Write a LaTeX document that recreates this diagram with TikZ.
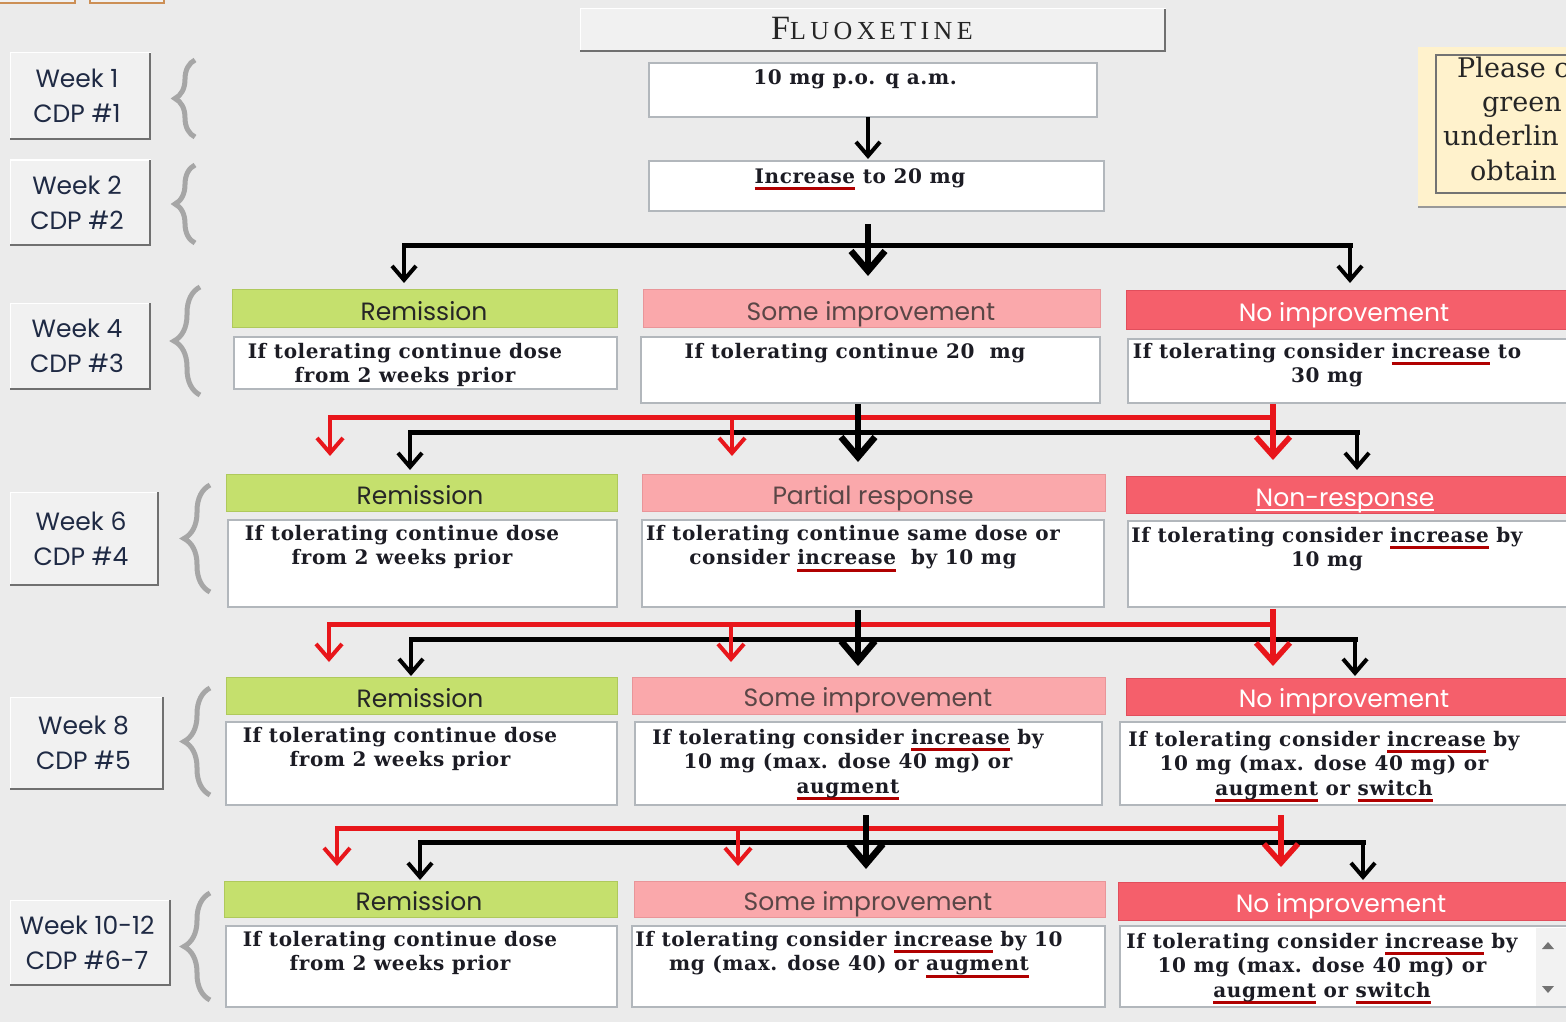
\documentclass[tikz,border=0pt]{standalone}
\usepackage{fontspec}
\setmainfont[LetterSpace=3]{DejaVu Serif}
\newfontfamily\hdfont{Poppins}
\newfontfamily\ttlfont[LetterSpace=17]{Liberation Serif}
\newfontfamily\ntfont{DejaVu Serif}
\usetikzlibrary{arrows.meta,decorations.pathreplacing}

\definecolor{bgc}{HTML}{EBEBEB}
\definecolor{btnfill}{HTML}{F1F1F1}
\definecolor{btnedge}{HTML}{707070}
\definecolor{grnh}{HTML}{C5E06D}
\definecolor{grnb}{HTML}{AFC95C}
\definecolor{pnkh}{HTML}{FAA8AB}
\definecolor{pnkb}{HTML}{E99599}
\definecolor{redh}{HTML}{F55F6B}
\definecolor{redb}{HTML}{E14E5C}
\definecolor{boxln}{HTML}{B2B7BC}
\definecolor{arrred}{HTML}{E8161B}
\definecolor{ulred}{HTML}{B00000}
\definecolor{notefill}{HTML}{FFF2CC}
\definecolor{txt}{HTML}{1C1C24}
\definecolor{wkt}{HTML}{1F2A44}
\definecolor{pnkt}{HTML}{5A4646}
\definecolor{brc}{HTML}{A6A6A6}
\definecolor{stubln}{HTML}{CC8F55}

% underlined words
\newsavebox\ulbox
\newcommand\ured[1]{\sbox\ulbox{#1}\rlap{\textcolor{ulred}{\rule[-7pt]{\wd\ulbox}{3pt}}}\usebox\ulbox}
\newcommand\uwht[1]{\sbox\ulbox{#1}\rlap{\textcolor{white}{\rule[-4.5pt]{\wd\ulbox}{1.6pt}}}\usebox\ulbox}

% a rectangular node given by its corners: style, name, x1, y1, x2, y2
\newcommand\cell[6]{%
  \pgfmathsetmacro\cw{#5-#3}\pgfmathsetmacro\ch{#6-#4}%
  \node[#1,anchor=north west,minimum width=\cw pt,minimum height=\ch pt,
        inner sep=0pt,outer sep=0pt] (#2) at (#3,#4) {};}

% raised week button: name, x1, y1, x2, y2, label
\newcommand\weekbtn[6]{%
  \cell{btn}{#1}{#2}{#3}{#4}{#5}
  \draw[btnedge,line width=2.5pt] (#1.north east) -- (#1.south east) -- (#1.south west);
  \node[wtxt] (#1t) at ([xshift=-3pt]#1.center) {#6};}

\begin{document}
\begin{tikzpicture}[x=1pt,y=-1pt,
  btn/.style={fill=btnfill,draw=white,line width=1pt},
  stub/.style={fill=btnfill,draw=stubln,line width=1.5pt},
  hdg/.style={fill=grnh,draw=grnb,line width=1pt},
  hdp/.style={fill=pnkh,draw=pnkb,line width=1pt},
  hdr/.style={fill=redh,draw=redb,line width=1pt},
  bodybox/.style={fill=white,draw=boxln,line width=1.2pt},
  notebox/.style={fill=notefill},
  noteframe/.style={draw=black!55,line width=2pt},
  htxt/.style={inner sep=0pt,anchor=base,font=\hdfont\fontsize{25}{25}\selectfont},
  btxt/.style={inner sep=0pt,anchor=north,align=center,text=txt,
               font=\bfseries\fontsize{20}{24.5}\selectfont},
  wtxt/.style={inner sep=0pt,align=center,text=wkt,font=\hdfont\fontsize{25}{35}\selectfont},
  ntxt/.style={inner sep=0pt,anchor=base west,text=black!85,font=\ntfont\fontsize{27}{27}\selectfont},
  hl/.style={line width=5pt,line cap=rect},
  bkarr/.style={black,line width=4pt,-{Straight Barb[length=14pt,width=24pt]}},
  bktr/.style={black,line width=6.5pt,-{Straight Barb[length=20pt,width=34pt]}},
  rdarr/.style={arrred,line width=4pt,-{Straight Barb[length=15pt,width=26pt]}},
  rdtr/.style={arrred,line width=5.5pt,-{Straight Barb[length=19pt,width=34pt]}},
  curly/.style={draw=brc,line width=5pt,decorate,decoration={brace,amplitude=#1}}]

\useasboundingbox (0,0) rectangle (1566,1022);
\fill[bgc] (0,0) rectangle (1566,1022);

% tabs peeking in at the top left
\cell{stub}{st1}{-3}{-12}{75}{3}
\cell{stub}{st2}{90}{-12}{164}{3}

% title bar
\cell{btn}{ttl}{580}{9}{1165}{51}
\draw[btnedge,line width=2.5pt] (ttl.north east) -- (ttl.south east) -- (ttl.south west);
\node[inner sep=0pt,anchor=base,text=black!85] (ttlt) at (872,40)
  {\ttlfont\fontsize{34}{34}\selectfont F\fontsize{26}{26}\selectfont LUOXETINE};

% starting doses
\cell{bodybox}{b1}{649}{63}{1097}{117}
\node[btxt] (b1t) at (855,69) {10 mg p.o. q a.m.};
\cell{bodybox}{b2}{649}{161}{1104}{211}
\node[btxt] (b2t) at (860,168) {\ured{Increase} to 20 mg};

% note in the top right corner
\cell{notebox}{nt}{1418}{47}{1580}{207}
\draw[black!40,line width=2.5pt] (nt.south west) -- (nt.south east);
\cell{noteframe}{nf}{1436}{55}{1580}{193}
\node[ntxt] (n1) at (1457,78) {Please c};
\node[ntxt] (n2) at (1482,112) {green};
\node[ntxt] (n3) at (1443,146) {underlin};
\node[ntxt] (n4) at (1470,180) {obtain};

% week buttons and braces
\weekbtn{w1}{10}{53}{150}{139}{Week 1\\CDP \#1}
\weekbtn{w2}{10}{160}{150}{245}{Week 2\\CDP \#2}
\weekbtn{w4}{10}{303}{150}{389}{Week 4\\CDP \#3}
\weekbtn{w6}{10}{492}{158}{585}{Week 6\\CDP \#4}
\weekbtn{w8}{10}{697}{163}{789}{Week 8\\CDP \#5}
\weekbtn{w10}{10}{900}{170}{985}{Week 10-12\\CDP \#6-7}
\draw[curly=20pt] (195,137) -- (195,60);
\draw[curly=20pt] (195,243) -- (195,165);
\draw[curly=26pt] (200,395) -- (200,287);
\draw[curly=26pt] (210,592) -- (210,485);
\draw[curly=26pt] (210,795) -- (210,688);
\draw[curly=26pt] (210,1000) -- (210,893);

% ---- week 4
\cell{hdg}{h4a}{232}{289}{617}{327}
\cell{hdp}{h4b}{643}{289}{1100}{327}
\cell{hdr}{h4c}{1126}{290}{1580}{329}
\node[htxt,text=black!85] (h4at) at (424,320) {Remission};
\node[htxt,text=pnkt] (h4bt) at (871,320) {Some improvement};
\node[htxt,text=white] (h4ct) at (1344,321) {No improvement};
\cell{bodybox}{b4a}{234}{337}{617}{389}
\cell{bodybox}{b4b}{641}{337}{1100}{403}
\cell{bodybox}{b4c}{1128}{339}{1580}{403}
\node[btxt] (b4at) at (405,343) {If tolerating continue dose\\from 2 weeks prior};
\node[btxt] (b4bt) at (855,343) {If tolerating continue 20\ \ mg};
\node[btxt] (b4ct) at (1327,343) {If tolerating consider \ured{increase} to\\30 mg};

% ---- week 6
\cell{hdg}{h6a}{226}{474}{617}{511}
\cell{hdp}{h6b}{642}{474}{1105}{511}
\cell{hdr}{h6c}{1126}{476}{1580}{513}
\node[htxt,text=black!85] (h6at) at (420,504) {Remission};
\node[htxt,text=pnkt] (h6bt) at (873,504) {Partial response};
\node[htxt,text=white] (h6ct) at (1345,506) {\uwht{Non-response}};
\cell{bodybox}{b6a}{228}{520}{617}{607}
\cell{bodybox}{b6b}{642}{520}{1104}{607}
\cell{bodybox}{b6c}{1128}{521}{1580}{607}
\node[btxt] (b6at) at (402,525) {If tolerating continue dose\\from 2 weeks prior};
\node[btxt] (b6bt) at (853,525) {If tolerating continue same dose or\\consider \ured{increase}\ \ by 10 mg};
\node[btxt] (b6ct) at (1327,527) {If tolerating consider \ured{increase} by\\10 mg};

% ---- week 8
\cell{hdg}{h8a}{226}{677}{617}{714}
\cell{hdp}{h8b}{632}{677}{1105}{714}
\cell{hdr}{h8c}{1126}{678}{1580}{715}
\node[htxt,text=black!85] (h8at) at (420,707) {Remission};
\node[htxt,text=pnkt] (h8bt) at (868,706) {Some improvement};
\node[htxt,text=white] (h8ct) at (1344,707) {No improvement};
\cell{bodybox}{b8a}{226}{722}{617}{805}
\cell{bodybox}{b8b}{635}{722}{1102}{805}
\cell{bodybox}{b8c}{1120}{722}{1580}{805}
\node[btxt] (b8at) at (400,727) {If tolerating continue dose\\from 2 weeks prior};
\node[btxt] (b8bt) at (848,729) {If tolerating consider \ured{increase} by\\10 mg (max. dose 40 mg) or\\\ured{augment}};
\node[btxt] (b8ct) at (1324,731) {If tolerating consider \ured{increase} by\\10 mg (max. dose 40 mg) or\\\ured{augment} or \ured{switch}};

% ---- weeks 10-12
\cell{hdg}{h10a}{224}{881}{617}{917}
\cell{hdp}{h10b}{634}{881}{1105}{917}
\cell{hdr}{h10c}{1118}{882}{1580}{920}
\node[htxt,text=black!85] (h10at) at (419,910) {Remission};
\node[htxt,text=pnkt] (h10bt) at (868,910) {Some improvement};
\node[htxt,text=white] (h10ct) at (1341,912) {No improvement};
\cell{bodybox}{b10a}{226}{926}{617}{1007}
\cell{bodybox}{b10b}{632}{926}{1105}{1007}
\cell{bodybox}{b10c}{1120}{926}{1580}{1007}
\node[btxt] (b10at) at (400,931) {If tolerating continue dose\\from 2 weeks prior};
\node[btxt] (b10bt) at (849,931) {If tolerating consider \ured{increase} by 10\\mg (max. dose 40) or \ured{augment}};
\node[btxt] (b10ct) at (1322,933) {If tolerating consider \ured{increase} by\\10 mg (max. dose 40 mg) or\\\ured{augment} or \ured{switch}};
% scroll bar of the last box
\cell{fill=black!5}{sb}{1536}{928}{1566}{1006}
\fill[black!55] (1542,949) -- (1554,949) -- (1548,942) -- cycle;
\fill[black!55] (1542,986) -- (1554,986) -- (1548,993) -- cycle;

% ---- connectors
\coordinate (c0) at (868,0);
\draw[bkarr,shorten >=2pt] (b1.south -| c0) -- (b2.north -| c0);

% week 2 -> week 4
\coordinate (c1s) at (868,224);
\coordinate (c1m) at (868,276);
\coordinate (c1l) at (404,245); \coordinate (c1lt) at (404,283);
\coordinate (c1r) at (1350,245); \coordinate (c1rt) at (1350,283);
\draw[hl] (c1l) -- (c1r);
\draw[bkarr] (c1l) -- (c1lt);
\draw[bkarr] (c1r) -- (c1rt);
\draw[bktr] (c1s) -- (c1m);

% week 4 -> week 6
\coordinate (c2bl) at (410,432); \coordinate (c2blt) at (410,470);
\coordinate (c2br) at (1357,432); \coordinate (c2brt) at (1357,470);
\coordinate (c2bs) at (858,404); \coordinate (c2bt) at (858,462);
\coordinate (c2rl) at (330,417); \coordinate (c2rlt) at (330,456);
\coordinate (c2rm) at (732,417); \coordinate (c2rmt) at (732,456);
\coordinate (c2rs) at (1273,404); \coordinate (c2rj) at (1273,417); \coordinate (c2rt) at (1273,460);
\draw[hl] (c2bl) -- (c2br);
\draw[bkarr] (c2bl) -- (c2blt);
\draw[bkarr] (c2br) -- (c2brt);
\draw[hl,arrred] (c2rl) -- (c2rj);
\draw[rdarr] (c2rl) -- (c2rlt);
\draw[rdarr] (c2rm) -- (c2rmt);
\draw[rdtr] (c2rs) -- (c2rt);
\draw[bktr] (c2bs) -- (c2bt);

% week 6 -> week 8
\coordinate (c3bl) at (411,639); \coordinate (c3blt) at (411,676);
\coordinate (c3br) at (1355,639); \coordinate (c3brt) at (1355,676);
\coordinate (c3bs) at (858,610); \coordinate (c3bt) at (858,666);
\coordinate (c3rl) at (329,624); \coordinate (c3rlt) at (329,662);
\coordinate (c3rm) at (731,624); \coordinate (c3rmt) at (731,662);
\coordinate (c3rs) at (1273,609); \coordinate (c3rj) at (1273,624); \coordinate (c3rt) at (1273,666);
\draw[hl] (c3bl) -- (c3br);
\draw[bkarr] (c3bl) -- (c3blt);
\draw[bkarr] (c3br) -- (c3brt);
\draw[hl,arrred] (c3rl) -- (c3rj);
\draw[rdarr] (c3rl) -- (c3rlt);
\draw[rdarr] (c3rm) -- (c3rmt);
\draw[rdtr] (c3rs) -- (c3rt);
\draw[bktr] (c3bs) -- (c3bt);

% week 8 -> weeks 10-12
\coordinate (c4bl) at (420,842); \coordinate (c4blt) at (420,880);
\coordinate (c4br) at (1363,842); \coordinate (c4brt) at (1363,880);
\coordinate (c4bs) at (866,815); \coordinate (c4bt) at (866,869);
\coordinate (c4rl) at (337,828); \coordinate (c4rlt) at (337,866);
\coordinate (c4rm) at (738,828); \coordinate (c4rmt) at (738,866);
\coordinate (c4rs) at (1281,815); \coordinate (c4rj) at (1281,828); \coordinate (c4rt) at (1281,867);
\draw[hl] (c4bl) -- (c4br);
\draw[bkarr] (c4bl) -- (c4blt);
\draw[bkarr] (c4br) -- (c4brt);
\draw[hl,arrred] (c4rl) -- (c4rj);
\draw[rdarr] (c4rl) -- (c4rlt);
\draw[rdarr] (c4rm) -- (c4rmt);
\draw[rdtr] (c4rs) -- (c4rt);
\draw[bktr] (c4bs) -- (c4bt);

\end{tikzpicture}
\end{document}
